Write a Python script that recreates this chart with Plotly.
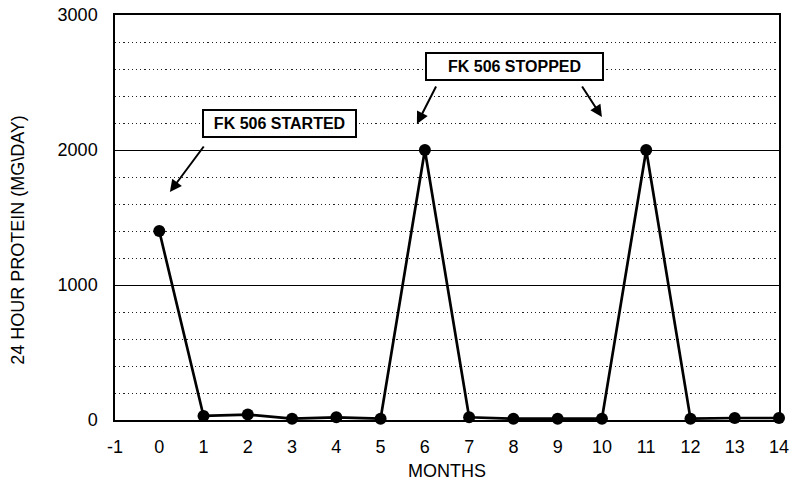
import plotly.graph_objects as go

months = [0, 1, 2, 3, 4, 5, 6, 7, 8, 9, 10, 11, 12, 13, 14]
protein = [1400, 30, 40, 10, 20, 10, 2000, 20, 10, 10, 10, 2000, 10, 15, 15]

x_ticks = list(range(-1, 15))
y_ticks = [0, 1000, 2000, 3000]

FONT = "Liberation Sans, Arial, sans-serif"

fig = go.Figure()
fig.add_trace(go.Scatter(
    x=months, y=protein, mode="lines+markers",
    line=dict(color="black", width=2.7),
    marker=dict(color="black", size=12),
    showlegend=False, cliponaxis=False,
))

fig.update_layout(
    width=800, height=493,
    margin=dict(l=115, r=21, t=15, b=73),
    paper_bgcolor="white", plot_bgcolor="white",
    font=dict(family=FONT, color="black", size=18),
    xaxis=dict(
        range=[-1, 14], tickmode="array", tickvals=x_ticks,
        ticktext=[str(v) for v in x_ticks],
        showgrid=False, zeroline=False, automargin=False,
        showline=True, mirror=True, linecolor="black", linewidth=1.5,
        ticks="", ticklabelstandoff=10,
        title=dict(text="MONTHS", font=dict(size=18), standoff=8),
    ),
    yaxis=dict(
        range=[0, 3000], tickmode="array", tickvals=y_ticks,
        showgrid=True, gridcolor="black", gridwidth=1.4,
        zeroline=False, automargin=False,
        showline=True, mirror=True, linecolor="black", linewidth=1.5,
        ticks="", ticklabelstandoff=12,
        minor=dict(dtick=200, showgrid=True, gridcolor="#222222",
                   griddash="1.2px,3px", gridwidth=1.2),
    ),
)

fig.add_annotation(
    text="24 HOUR PROTEIN (MG\\DAY)", textangle=-90,
    xref="paper", yref="paper", x=-0.146, y=0.445,
    xanchor="center", yanchor="middle", showarrow=False,
    font=dict(size=18),
)

box_font = dict(size=16, family=FONT, color="black")
fig.add_annotation(
    text="<b>FK 506 STARTED</b>", x=2.716, y=2193, xref="x", yref="y",
    showarrow=False, bordercolor="black", borderwidth=2, borderpad=4,
    bgcolor="white", font=box_font, width=143,
)
fig.add_annotation(
    text="<b>FK 506 STOPPED</b>", x=8.024, y=2619, xref="x", yref="y",
    showarrow=False, bordercolor="black", borderwidth=2, borderpad=4,
    bgcolor="white", font=box_font, width=167,
)

arrows = [
    ((1.03, 2037), (0.24, 1689)),
    ((6.27, 2481), (5.82, 2193)),
    ((9.53, 2481), (10.0, 2244)),
]
for (tx, ty), (hx, hy) in arrows:
    fig.add_annotation(
        text="", x=hx, y=hy, ax=tx, ay=ty, xref="x", yref="y",
        axref="x", ayref="y", showarrow=True, arrowhead=2,
        arrowsize=1.2, arrowwidth=2, arrowcolor="black",
    )

fig.write_html(
    "out.html",
    config={"displayModeBar": False},
    post_script="document.body.style.margin='0';document.body.style.padding='0';",
)
